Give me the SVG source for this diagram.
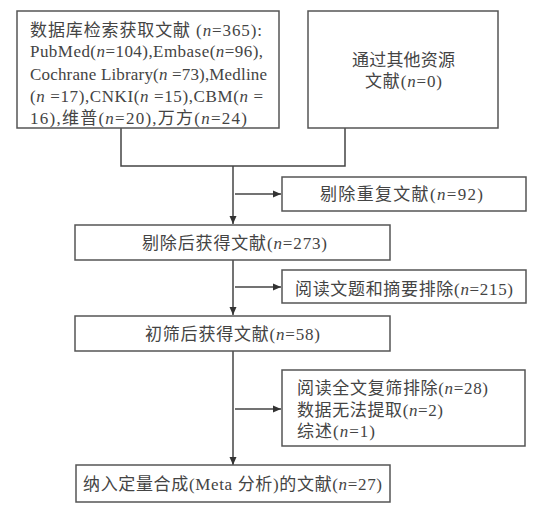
<svg xmlns="http://www.w3.org/2000/svg" width="542" height="508" viewBox="0 0 542 508">
<defs>
<marker id="ah" markerUnits="userSpaceOnUse" markerWidth="9" markerHeight="8" refX="8" refY="4" orient="auto">
<path d="M0,0.5 L8,4 L0,7.5 z" fill="#333"/>
</marker>
<style>
.box{fill:#fff;stroke:#555;stroke-width:1.5}
.t{font-family:"Liberation Serif","Noto Sans CJK SC",serif;font-size:17px;fill:#444}
.c{text-anchor:middle}
.i{font-style:italic}
.ln{fill:none;stroke:#444;stroke-width:1.5}
</style>
</defs>
<rect width="542" height="508" fill="#fff"/>
<g id="connectors">
<path class="ln" d="M121,128 V166 H345 V128"/>
<path class="ln" d="M233,166 V224" marker-end="url(#ah)"/>
<path class="ln" d="M235,194 H281" marker-end="url(#ah)"/>
<path class="ln" d="M233,260 V315" marker-end="url(#ah)"/>
<path class="ln" d="M235,287 H281" marker-end="url(#ah)"/>
<path class="ln" d="M233,351 V465" marker-end="url(#ah)"/>
<path class="ln" d="M235,409 H281" marker-end="url(#ah)"/>
</g>
<g id="n1">
<rect class="box" x="17" y="11" width="262" height="117"/>
<text class="t" x="30" y="36" textLength="232" lengthAdjust="spacing">数据库检索获取文献 (<tspan class="i">n</tspan>=365):</text>
<text class="t" x="30" y="57" textLength="233" lengthAdjust="spacing">PubMed(<tspan class="i">n</tspan>=104),Embase(<tspan class="i">n</tspan>=96),</text>
<text class="t" x="30" y="80" textLength="237" lengthAdjust="spacing">Cochrane Library(<tspan class="i">n</tspan> =73),Medline</text>
<text class="t" x="30" y="102" textLength="233" lengthAdjust="spacing">(<tspan class="i">n</tspan> =17),CNKI(<tspan class="i">n</tspan> =15),CBM(<tspan class="i">n</tspan> =</text>
<text class="t" x="30" y="124" textLength="217" lengthAdjust="spacing">16),维普(<tspan class="i">n</tspan>=20),万方(<tspan class="i">n</tspan>=24)</text>
</g>
<g id="n2">
<rect class="box" x="308" y="11" width="190" height="117"/>
<text class="t c" x="403.5" y="66" textLength="103" lengthAdjust="spacing">通过其他资源</text>
<text class="t c" x="403.5" y="87" textLength="77" lengthAdjust="spacing">文献(<tspan class="i">n</tspan>=0)</text>
</g>
<g id="n3">
<rect class="box" x="282" y="177" width="244" height="34"/>
<text class="t c" x="401.5" y="200" textLength="163" lengthAdjust="spacing">剔除重复文献(<tspan class="i">n</tspan>=92)</text>
</g>
<g id="n4">
<rect class="box" x="75" y="225" width="315" height="35"/>
<text class="t c" x="234.5" y="249" textLength="185" lengthAdjust="spacing">剔除后获得文献(<tspan class="i">n</tspan>=273)</text>
</g>
<g id="n5">
<rect class="box" x="282" y="270" width="244" height="33"/>
<text class="t" x="295" y="295" textLength="218" lengthAdjust="spacing">阅读文题和摘要排除(<tspan class="i">n</tspan>=215)</text>
</g>
<g id="n6">
<rect class="box" x="75" y="316" width="315" height="35"/>
<text class="t c" x="232.5" y="340" textLength="175" lengthAdjust="spacing">初筛后获得文献(<tspan class="i">n</tspan>=58)</text>
</g>
<g id="n7">
<rect class="box" x="282" y="370" width="243" height="76"/>
<text class="t" x="297" y="394" textLength="191" lengthAdjust="spacing">阅读全文复筛排除(<tspan class="i">n</tspan>=28)</text>
<text class="t" x="297" y="416" textLength="146" lengthAdjust="spacing">数据无法提取(<tspan class="i">n</tspan>=2)</text>
<text class="t" x="297" y="437" textLength="78" lengthAdjust="spacing">综述(<tspan class="i">n</tspan>=1)</text>
</g>
<g id="n8">
<rect class="box" x="76" y="465" width="314" height="37"/>
<text class="t" x="83" y="490" textLength="299" lengthAdjust="spacing">纳入定量合成(Meta 分析)的文献(<tspan class="i">n</tspan>=27)</text>
</g>
</svg>
